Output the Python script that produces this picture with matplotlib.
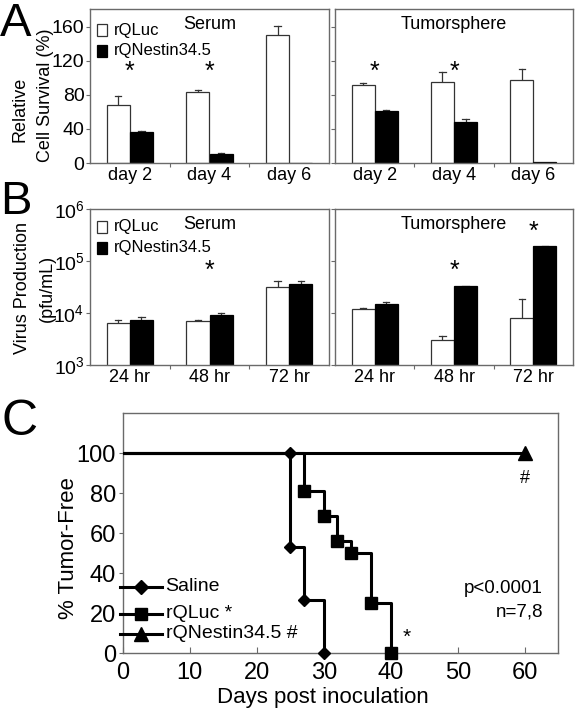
import matplotlib
matplotlib.use("Agg")
import matplotlib.pyplot as plt
import numpy as np

plt.rcParams['font.family'] = ['Liberation Sans', 'DejaVu Sans']
plt.rcParams['mathtext.fontset'] = 'custom'
plt.rcParams['mathtext.rm'] = 'Liberation Sans'
plt.rcParams['mathtext.it'] = 'Liberation Sans:italic'
plt.rcParams['mathtext.bf'] = 'Liberation Sans:bold'

# ---------------- data ----------------
days_A = ["day 2", "day 4", "day 6"]
serum_luc = [68, 83, 150]
serum_luc_err = [11, 3, 11]
serum_nes = [36, 10, 0]
serum_nes_err = [2, 2, 0]
tumor_luc = [92, 95, 97]
tumor_luc_err = [2, 12, 14]
tumor_nes = [61, 48, 1]
tumor_nes_err = [1, 4, 0]
sig_A_serum = [0, 1]
sig_A_tumor = [0, 1]
yticks_A = [0, 40, 80, 120, 160]

hours_B = ["24 hr", "48 hr", "72 hr"]
bserum_luc = [6500, 7000, 31600]
bserum_luc_err = [800, 400, 10000]
bserum_nes = [7250, 9300, 35600]
bserum_nes_err = [1200, 500, 6000]
btumor_luc = [11800, 2990, 7900]
btumor_luc_err = [800, 570, 10700]
btumor_nes = [15100, 32600, 191000]
btumor_nes_err = [1200, 900, 4000]

saline_t = [0, 25, 27, 30]
saline_s = [100, 53.3, 26.7, 0]
saline_mk_t = [25, 25, 27, 30]
saline_mk_s = [100, 53.3, 26.7, 0]
luc_t = [0, 27, 30, 32, 34, 37, 40]
luc_s = [100, 81.25, 68.75, 56.25, 50, 25, 0]
nes_t = [0, 60]
nes_s = [100, 100]
nes_mk_t = [60]
nes_mk_s = [100]

W, H = 577, 714
fig = plt.figure(figsize=(W / 100, H / 100), dpi=100)

def ax_px(l, t, r, b):
    return fig.add_axes([l / W, 1 - b / H, (r - l) / W, (b - t) / H])

def ftext(px, py, s, **kw):
    return fig.text(px / W, 1 - py / H, s, **kw)

spine_col = '#6a6a6a'
bw = 0.29

def style_bar_ax(ax):
    for s in ax.spines.values():
        s.set_color(spine_col)
        s.set_linewidth(1.0)
    ax.tick_params(axis='both', colors=spine_col, labelcolor='black', direction='out', length=3)

def set_cat_ticks(ax, labels):
    ax.set_xlim(0, 3)
    ax.set_xticks([1, 2])
    ax.set_xticks([0.5, 1.5, 2.5], minor=True)
    ax.set_xticklabels(labels, minor=True)
    ax.tick_params(axis='x', which='major', labelbottom=False, length=3)
    ax.tick_params(axis='x', which='minor', length=0, labelsize=13, pad=3)

def draw_bars(ax, luc, lucerr, nes, neserr):
    x = np.arange(3) + 0.5
    ax.bar(x - bw / 2, luc, bw, color='white', edgecolor='#333333', linewidth=0.9, zorder=2)
    ax.bar(x + bw / 2, nes, bw, color='black', edgecolor='black', linewidth=0.9, zorder=2)
    for xs, vals, errs in [(x - bw / 2, luc, lucerr), (x + bw / 2, nes, neserr)]:
        for xi, v, e in zip(xs, vals, errs):
            if e > 0:
                ax.plot([xi, xi], [v, v + e], color='#333333', lw=0.9, zorder=1)
                ax.plot([xi - 0.04, xi + 0.04], [v + e, v + e], color='#333333', lw=0.9, zorder=1)

def legend_boxes(ax, y1, y2):
    ax.add_patch(plt.Rectangle((0.03, y1 - 0.04), 0.04, 0.08, transform=ax.transAxes,
                               facecolor='white', edgecolor='#333333', lw=0.9, zorder=5))
    ax.text(0.1, y1, 'rQLuc', transform=ax.transAxes, va='center', ha='left', fontsize=12)
    ax.add_patch(plt.Rectangle((0.03, y2 - 0.04), 0.04, 0.08, transform=ax.transAxes,
                               facecolor='black', edgecolor='black', lw=0.9, zorder=5))
    ax.text(0.1, y2, 'rQNestin34.5', transform=ax.transAxes, va='center', ha='left', fontsize=12)

# ---------------- Panel A ----------------
axA1 = ax_px(90, 9, 329, 163)
axA2 = ax_px(335, 9, 573, 163)
for ax, luc, le, nes, ne, sig in [(axA1, serum_luc, serum_luc_err, serum_nes, serum_nes_err, sig_A_serum),
                                  (axA2, tumor_luc, tumor_luc_err, tumor_nes, tumor_nes_err, sig_A_tumor)]:
    style_bar_ax(ax)
    draw_bars(ax, luc, le, nes, ne)
    set_cat_ticks(ax, days_A)
    ax.set_ylim(0, 181)
    ax.set_yticks(yticks_A)
    for i in sig:
        ax.text(i + 0.5, 107, '*', ha='center', va='center', fontsize=18)
axA1.tick_params(axis='y', labelsize=14, pad=1)
axA2.tick_params(axis='y', labelleft=False)
ftext(20, 109, 'Relative', rotation=90, ha='center', va='center', fontsize=13)
ftext(45, 95, 'Cell Survival (%)', rotation=90, ha='center', va='center', fontsize=13)
axA1.text(0.5, 0.9, 'Serum', transform=axA1.transAxes, ha='center', va='center', fontsize=13)
axA2.text(0.5, 0.9, 'Tumorsphere', transform=axA2.transAxes, ha='center', va='center', fontsize=13)
ftext(0, 24, 'A', fontsize=34, va='center', ha='left')
legend_boxes(axA1, 1 - (30 - 9) / 154, 1 - (51 - 9) / 154)

# ---------------- Panel B ----------------
axB1 = ax_px(90, 209, 329, 365)
axB2 = ax_px(335, 209, 573, 365)
for ax, luc, le, nes, ne in [(axB1, bserum_luc, bserum_luc_err, bserum_nes, bserum_nes_err),
                             (axB2, btumor_luc, btumor_luc_err, btumor_nes, btumor_nes_err)]:
    ax.set_yscale('log')
    style_bar_ax(ax)
    draw_bars(ax, luc, le, nes, ne)
    ax.set_ylim(1e3, 1e6)
    ax.set_yticks([1e3, 1e4, 1e5, 1e6])
    ax.yaxis.set_minor_locator(matplotlib.ticker.NullLocator())
    set_cat_ticks(ax, hours_B)
axB1.tick_params(axis='y', labelsize=14, pad=1)
axB2.tick_params(axis='y', labelleft=False)

def log_at(py):
    return 10 ** (3 + (365 - py) / 52)

axB1.text(1.5, log_at(271), '*', ha='center', va='center', fontsize=18)
axB2.text(1.5, log_at(271), '*', ha='center', va='center', fontsize=18)
axB2.text(2.5, log_at(232), '*', ha='center', va='center', fontsize=18)
ftext(23, 288, 'Virus Production', rotation=90, ha='center', va='center', fontsize=13)
ftext(47, 288, '(pfu/mL)', rotation=90, ha='center', va='center', fontsize=13)
axB1.text(0.5, 0.9, 'Serum', transform=axB1.transAxes, ha='center', va='center', fontsize=13)
axB2.text(0.5, 0.9, 'Tumorsphere', transform=axB2.transAxes, ha='center', va='center', fontsize=13)
ftext(0, 202, 'B', fontsize=34, va='center', ha='left')
legend_boxes(axB1, 1 - (227 - 209) / 156, 1 - (248 - 209) / 156)

# ---------------- Panel C ----------------
axC = ax_px(122.7, 413.3, 558.3, 653.3)
for s in axC.spines.values():
    s.set_color(spine_col)
    s.set_linewidth(1.0)
axC.set_xlim(0, 65)
axC.set_ylim(0, 120)
axC.set_xticks([0, 10, 20, 30, 40, 50, 60])
axC.set_yticks([0, 20, 40, 60, 80, 100])
axC.tick_params(axis='x', direction='in', length=4, colors=spine_col, labelcolor='black', labelsize=17, pad=6)
axC.tick_params(axis='y', direction='out', length=3, colors=spine_col, labelcolor='black', labelsize=17, pad=2)
ftext(68, 548, '% Tumor-Free', rotation=90, ha='center', va='center', fontsize=16)
ftext(323, 697, 'Days post inoculation', ha='center', va='center', fontsize=16)

lw = 2.2
axC.plot(nes_t, nes_s, drawstyle='steps-post', color='black', lw=lw, zorder=2)
axC.plot(saline_t, saline_s, drawstyle='steps-post', color='black', lw=lw, zorder=3)
axC.plot(luc_t, luc_s, drawstyle='steps-post', color='black', lw=lw, zorder=3)
axC.plot(saline_mk_t, saline_mk_s, 'D', color='black', ms=6, clip_on=False, zorder=4)
axC.plot(luc_t[1:], luc_s[1:], 's', color='black', ms=8, clip_on=False, zorder=4)
axC.plot(nes_mk_t, nes_mk_s, '^', color='black', ms=10, clip_on=False, zorder=4)

axC.text(60, 87.4, '#', ha='center', va='center', fontsize=13)
axC.text(42.4, 8.0, '*', ha='center', va='center', fontsize=15)
axC.text(62.7, 32.5, 'p<0.0001', ha='right', va='center', fontsize=13.5)
axC.text(62.7, 20.7, 'n=7,8', ha='right', va='center', fontsize=13.5)

leg_items = [(33.2, 'D', 7, 'Saline'), (19.9, 's', 9, 'rQLuc *'), (9.9, '^', 10, 'rQNestin34.5 #')]
for yv, mk, ms, lab in leg_items:
    axC.plot([-0.4, 5.9], [yv, yv], color='black', lw=lw, clip_on=False, zorder=5)
    axC.plot([2.7], [yv], mk, color='black', ms=ms, clip_on=False, zorder=5)
    axC.text(6.4, yv, lab, ha='left', va='center', fontsize=14)

ftext(1, 422, 'C', fontsize=36, va='center', ha='left')

fig.savefig('out.png', dpi=100)
